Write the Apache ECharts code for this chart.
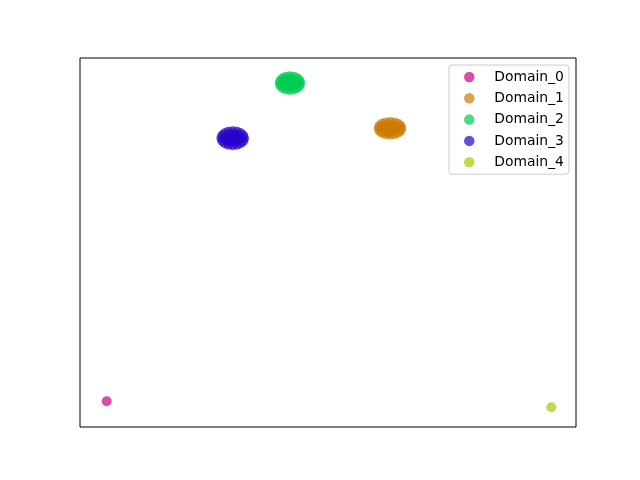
<!DOCTYPE html>
<html>
<head>
<meta charset="utf-8">
<script src="https://cdn.jsdelivr.net/npm/echarts@6/dist/echarts.min.js"></script>
<style>html,body{margin:0;padding:0;background:#fff}#c{width:640px;height:480px}</style>
</head>
<body>
<div id="c"></div>
<script>
const domainNames = ['Domain_0', 'Domain_1', 'Domain_2', 'Domain_3', 'Domain_4'];
const domainColors = ['#cc0080', '#cc7a00', '#00cc52', '#2900cc', '#a3cc00'];

const domain0 = [[5.38, 6.96]];
const domain1 = [
  [64.78,80.95],[64.61,81.60],[64.11,82.16],[63.37,82.53],[62.50,82.66],[61.63,82.53],[60.89,82.16],[60.39,81.60],
  [60.22,80.95],[60.39,80.30],[60.89,79.74],[61.63,79.37],[62.50,79.24],[63.37,79.37],[64.11,79.74],[64.61,80.30],
  [63.64,80.95],[63.31,81.55],[62.50,81.81],[61.69,81.55],[61.36,80.95],[61.69,80.35],[62.50,80.10],[63.31,80.35],[62.50,80.95]
];
const domain2 = [
  [44.42,93.20],[44.26,93.90],[43.81,94.50],[43.14,94.90],[42.34,95.04],[41.54,94.90],[40.87,94.50],[40.42,93.90],
  [40.26,93.20],[40.42,92.50],[40.87,91.90],[41.54,91.50],[42.34,91.36],[43.14,91.50],[43.81,91.90],[44.26,92.50],
  [43.38,93.20],[43.08,93.85],[42.34,94.12],[41.60,93.85],[41.30,93.20],[41.60,92.55],[42.34,92.28],[43.08,92.55],[42.34,93.20]
];
const domain3 = [
  [33.07,78.24],[32.90,78.97],[32.40,79.58],[31.66,79.99],[30.79,80.14],[29.92,79.99],[29.18,79.58],[28.68,78.97],
  [28.51,78.24],[28.68,77.51],[29.18,76.90],[29.92,76.49],[30.79,76.34],[31.66,76.49],[32.40,76.90],[32.90,77.51],
  [31.93,78.24],[31.60,78.91],[30.79,79.19],[29.98,78.91],[29.65,78.24],[29.98,77.57],[30.79,77.29],[31.60,77.57],[30.79,78.24]
];
const domain4 = [[95.02, 5.34]];
const domainData = [domain0, domain1, domain2, domain3, domain4];

const chart = echarts.init(document.getElementById('c'), null, {renderer: 'canvas'});
const hiddenAxis = {
  min: 0, max: 100,
  axisLine: {show: false}, axisTick: {show: false},
  axisLabel: {show: false}, splitLine: {show: false}
};
chart.setOption({
  animation: false,
  backgroundColor: '#fff',
  grid: {left: 80, right: 64, top: 58, bottom: 53, show: true, borderColor: '#000', borderWidth: 1, backgroundColor: 'transparent'},
  xAxis: Object.assign({type: 'value'}, hiddenAxis),
  yAxis: Object.assign({type: 'value'}, hiddenAxis),
  legend: {
    orient: 'vertical', left: 449, top: 65,
    padding: [4, 5, 4, 15],
    itemWidth: 30, itemHeight: 10.5, itemGap: 5.3,
    icon: 'circle',
    borderColor: '#cccccc', borderWidth: 1, borderRadius: 3,
    backgroundColor: 'rgba(255,255,255,0.8)',
    textStyle: {fontFamily: 'DejaVu Sans', fontSize: 13.9, color: '#000', lineHeight: 16, padding: [0, 0, 0, 5]},
    data: domainNames
  },
  series: domainNames.map((n, i) => ({
    name: n, type: 'scatter', symbol: 'circle', symbolSize: 10,
    itemStyle: {color: domainColors[i], opacity: 0.7},
    data: domainData[i]
  }))
});
</script>
</body>
</html>
